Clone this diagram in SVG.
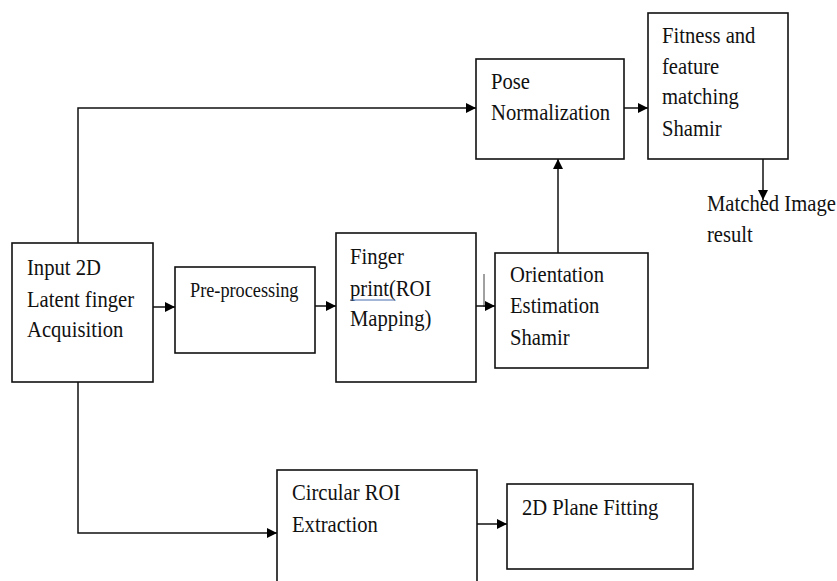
<svg xmlns="http://www.w3.org/2000/svg" width="837" height="581" viewBox="0 0 837 581">
<defs>
<marker id="arr" viewBox="0 0 10 10" refX="10" refY="5" markerWidth="11" markerHeight="10" markerUnits="userSpaceOnUse" orient="auto">
<path d="M0,0 L10,5 L0,10 Z" fill="#000"/>
</marker>
<style>
.box{fill:#fff;stroke:#111;stroke-width:1.6}
.t{font-family:'Liberation Serif','Times New Roman',serif;font-size:24px;fill:#111}
.s{font-size:22px}
.c{fill:none;stroke:#111;stroke-width:1.5}
</style>
</defs>
<rect width="837" height="581" fill="#fff"/>
<g id="connectors">
<path class="c" d="M78,243 V108 H476" marker-end="url(#arr)"/>
<path class="c" d="M153,307 H175" marker-end="url(#arr)"/>
<path class="c" d="M315,306 H336" marker-end="url(#arr)"/>
<path class="c" d="M476,306 H495" marker-end="url(#arr)"/>
<path d="M484,274 V307" fill="none" stroke="#111" stroke-width="0.8"/>
<path class="c" d="M558,253 V159" marker-end="url(#arr)"/>
<path class="c" d="M624,108 H648" marker-end="url(#arr)"/>
<path class="c" d="M763,159 V200" marker-end="url(#arr)"/>
<path class="c" d="M78,382 V533 H277" marker-end="url(#arr)"/>
<path class="c" d="M477,524 H507" marker-end="url(#arr)"/>
</g>
<g id="input">
<rect class="box" x="12" y="243" width="141" height="139"/>
<text class="t" transform="translate(27,275) scale(0.86,1)">Input 2D</text>
<text class="t" transform="translate(27,307) scale(0.86,1)">Latent finger</text>
<text class="t" transform="translate(27,337) scale(0.86,1)">Acquisition</text>
</g>
<g id="preprocessing">
<rect class="box" x="175" y="267" width="140" height="86"/>
<text class="t s" transform="translate(190,297) scale(0.83,1)">Pre-processing</text>
</g>
<g id="fingerprint">
<rect class="box" x="336" y="233" width="140" height="149"/>
<text class="t" transform="translate(350,264) scale(0.86,1)">Finger</text>
<text class="t" transform="translate(350,296) scale(0.86,1)">print(ROI</text>
<path d="M350,300 H395" fill="none" stroke="#4a6fb0" stroke-width="1"/>
<text class="t" transform="translate(350,326) scale(0.86,1)">Mapping)</text>
</g>
<g id="orientation">
<rect class="box" x="495" y="253" width="153" height="115"/>
<text class="t" transform="translate(510,282) scale(0.86,1)">Orientation</text>
<text class="t" transform="translate(510,313) scale(0.86,1)">Estimation</text>
<text class="t" transform="translate(510,345) scale(0.86,1)">Shamir</text>
</g>
<g id="pose">
<rect class="box" x="476" y="59" width="148" height="100"/>
<text class="t" transform="translate(491,89) scale(0.86,1)">Pose</text>
<text class="t" transform="translate(491,120) scale(0.86,1)">Normalization</text>
</g>
<g id="fitness">
<rect class="box" x="648" y="13" width="140" height="146"/>
<text class="t" transform="translate(662,43) scale(0.86,1)">Fitness and</text>
<text class="t" transform="translate(662,74) scale(0.86,1)">feature</text>
<text class="t" transform="translate(662,104) scale(0.86,1)">matching</text>
<text class="t" transform="translate(662,136) scale(0.86,1)">Shamir</text>
</g>
<g id="result">
<text class="t" transform="translate(707,211) scale(0.86,1)">Matched Image</text>
<text class="t" transform="translate(707,242) scale(0.86,1)">result</text>
</g>
<g id="circular">
<rect class="box" x="277" y="470" width="200" height="120"/>
<text class="t" transform="translate(292,500) scale(0.86,1)">Circular ROI</text>
<text class="t" transform="translate(292,532) scale(0.86,1)">Extraction</text>
</g>
<g id="plane">
<rect class="box" x="507" y="484" width="186" height="85"/>
<text class="t" transform="translate(522,515) scale(0.86,1)">2D Plane Fitting</text>
</g>
</svg>
